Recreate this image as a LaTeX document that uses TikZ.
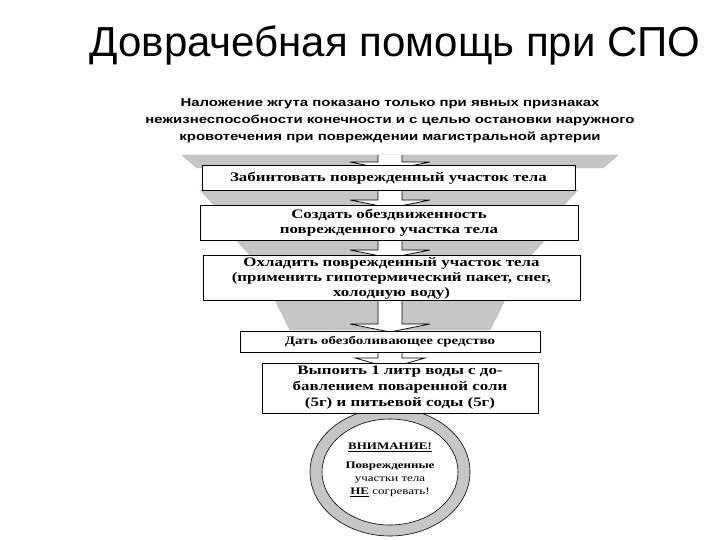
\documentclass[tikz,border=0pt]{standalone}
\usepackage{fontspec}
\setmainfont{Liberation Serif}
\newfontfamily\arial{Liberation Sans}
\newfontfamily\arialwide[FakeStretch=1.3]{Liberation Sans}
\newfontfamily\serifwide[FakeStretch=1.3]{Liberation Serif}
\begin{document}
\begin{tikzpicture}[x=1pt,y=-1pt,
  stepbox/.style={draw=black,line width=0.8pt,fill=white,align=center,font=\serifwide\fontsize{13}{15}\selectfont\bfseries,inner sep=0pt},
  funnel/.style={fill=gray!45,draw=gray!60,line width=0.4pt},
  chev/.style={fill=white,draw=black,line width=0.7pt}]
\clip (0,0) rectangle (720,540);
\fill[white] (0,0) rectangle (720,540);
\node[anchor=west,font=\arial\fontsize{42}{46}\selectfont] (title) at (86,45) {Доврачебная помощь при СПО};
\node[align=center,font=\arialwide\bfseries\fontsize{11.5}{17}\selectfont] (head) at (390,121)
 {Наложение жгута показано только при явных признаках\\нежизнеспособности конечности и с целью остановки наружного\\кровотечения при повреждении магистральной артерии};
\newcommand{\funnelat}[5]{% ytop ybot xl xr xc
  \fill[funnel] (#3,#1) -- (#4,#1) -- (#4-15,#2) -- (#3+15,#2) -- cycle;
  \draw[chev] (#5-12,#1) -- (#5-12,#2-6) -- (#5-40,#2-6) -- (#5,#2+2) -- (#5+40,#2-6) -- (#5+12,#2-6) -- (#5+12,#1);
}
\funnelat{155}{168}{182}{618}{390}
\funnelat{190}{206}{200}{578}{390}
\funnelat{240}{256}{236}{545}{390}
\funnelat{300}{330}{275}{505}{390}
\draw[chev] (378,352) -- (378,358) -- (355,358) -- (390,368) -- (425,358) -- (402,358) -- (402,352);
\fill[gray!45,even odd rule,draw=black,line width=0.6pt] (390,472) ellipse [x radius=80pt, y radius=64pt] (390,472) ellipse [x radius=68pt, y radius=53pt];
\node[stepbox,minimum width=373,minimum height=25] (b1) at (388.5,178) {Забинтовать поврежденный участок тела};
\node[stepbox,minimum width=378,minimum height=35] (b2) at (389,222.5) {Создать обездвиженность\\поврежденного участка тела};
\node[stepbox,minimum width=377,minimum height=45] (b3) at (391.5,278) {Охладить поврежденный участок тела\\(применить гипотермический пакет, снег,\\холодную воду)};
\node[stepbox,minimum width=300,minimum height=21,font=\serifwide\fontsize{11.5}{13}\selectfont\bfseries] (b4) at (390,342) {Дать обезболивающее средство};
\node[stepbox,minimum width=276,minimum height=50,font=\serifwide\fontsize{13}{16}\selectfont\bfseries] (b5) at (400,388) {Выпоить 1 литр воды с до-\\бавлением поваренной соли\\(5г) и питьевой соды (5г)};
\node[align=center,font=\serifwide\fontsize{10}{13}\selectfont] (c) at (390,470)
 {\textbf{\underline{ВНИМАНИЕ!}}\\[6pt]\textbf{Поврежденные}\\участки тела\\\textbf{\underline{НЕ}} согревать!};
\end{tikzpicture}
\end{document}
